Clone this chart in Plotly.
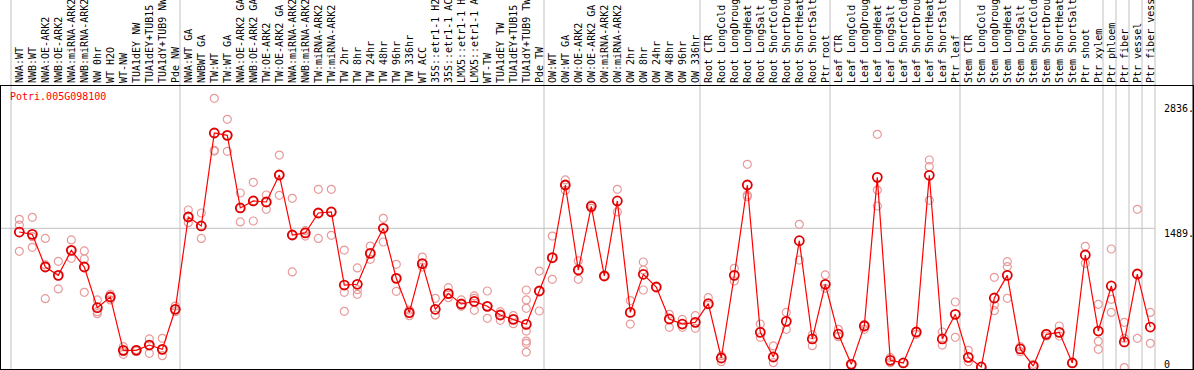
import plotly.graph_objects as go

labels = [
    "NWA:WT", "NWB:WT", "NWA:OE-ARK2", "NWB:OE-ARK2", "NWA:miRNA-ARK2", "NWB:miRNA-ARK2",
    "NW 0hr", "WT H2O", "WT-NW", "TUA1dEY NW", "TUA1dEY+TUB15 NW", "TUA1dY+TUB9 NW", "Pde NW",
    "NWA:WT GA", "NWBWT GA", "TW:WT", "TW:WT GA", "NWA:OE-ARK2 GA", "NWB:OE-ARK2 GA",
    "TW:OE-ARK2", "TW:OE-ARK2 GA", "NWA:miRNA-ARK2", "NWB:miRNA-ARK2", "TW:miRNA-ARK2",
    "TW:miRNA-ARK2", "TW 2hr", "TW 8hr", "TW 24hr", "TW 48hr", "TW 96hr", "TW 336hr",
    "WT ACC", "35S::etr1-1 H2O", "35S::etr1-1 ACC", "LMX5::etr1-1 H2O", "LMX5::etr1-1 ACC",
    "WT-TW", "TUA1dEY TW", "TUA1dEY+TUB15 TW", "TUA1dY+TUB9 TW", "Pde TW",
    "OW:WT", "OW:WT GA", "OW:OE-ARK2", "OW:OE-ARK2 GA", "OW:miRNA-ARK2", "OW:miRNA-ARK2",
    "OW 2hr", "OW 8hr", "OW 24hr", "OW 48hr", "OW 96hr", "OW 336hr",
    "Root CTR", "Root LongCold", "Root LongDrought", "Root LongHeat", "Root LongSalt",
    "Root ShortCold", "Root ShortDrought", "Root ShortHeat", "Root ShortSalt", "Ptr root",
    "Leaf CTR", "Leaf LongCold", "Leaf LongDrought", "Leaf LongHeat", "Leaf LongSalt",
    "Leaf ShortCold", "Leaf ShortDrought", "Leaf ShortHeat", "Leaf ShortSalt", "Ptr leaf",
    "Stem CTR", "Stem LongCold", "Stem LongDrought", "Stem LongHeat", "Stem LongSalt",
    "Stem ShortCold", "Stem ShortDrought", "Stem ShortHeat", "Stem ShortSalt", "Ptr shoot",
    "Ptr xylem", "Ptr phloem", "Ptr fiber", "Ptr vessel", "Ptr fiber vessel",
]

means = [
    1449, 1424, 1074, 985, 1253, 1074, 638, 753, 181, 181, 238, 192, 621,
    1610, 1514, 2510, 2485, 1707, 1782, 1771, 2060, 1417, 1439, 1653, 1664,
    881, 889, 1221, 1489, 953, 585, 1110, 621, 789, 678, 706, 653, 560, 513, 460, 817,
    1174, 1953, 1042, 1724, 978, 1782, 588, 996, 860, 517, 463, 481,
    681, 99, 985, 1953, 374, 110, 492, 1356, 303, 889,
    356, 31, 442, 2035, 74, 46, 378, 2057, 303, 567,
    106, 3, 742, 985, 196, 13, 353, 374, 46, 1203,
    388, 871, 271, 999, 431,
]

replicates = [
    [1585, 1524, 1242], [1607, 1399, 1285], [1381, 1096, 735], [1135, 981, 839],
    [1364, 1253, 1167], [1246, 1160, 803], [721, 596, 574], [781, 721, 753],
    [221, 167, 138], [175, 181, 188], [303, 238, 149], [310, 192, 124], [656, 621, 596],
    [1685, 1549, 1610], [1653, 1514, 1381], [2882, 2324, 2317], [2657, 2485, 2314],
    [1867, 1703, 1557], [1982, 1782, 1567], [1846, 1692, 1771], [2274, 2060, 1842],
    [1810, 1417, 1021], [1464, 1406, 1439], [1907, 1381, 1653], [1907, 1414, 1664],
    [1256, 803, 599], [1064, 831, 781], [1299, 1221, 1156], [1596, 1489, 1342],
    [1103, 953, 814], [613, 585, 553], [1181, 1110, 1074], [739, 560, 560],
    [853, 789, 746], [721, 678, 653], [764, 739, 610], [817, 653, 524],
    [596, 560, 503], [553, 513, 467], [828, 721, 631, 388, 281, 256, 163],
    [1031, 817, 603],
    [1406, 1174, 942], [2007, 1953, 1896], [1139, 1042, 942], [1739, 1703],
    [978, 978], [1907, 1664], [714, 463], [1128, 1042, 828], [860], [567, 428],
    [513, 428], [553, 417],
    [746, 667], [124, 60], [1060, 924], [2174, 1846, 1828], [463, 321], [228, 49],
    [588, 406], [1532, 1149], [346, 231], [989, 846],
    [406, 328], [31], [460, 406], [2496, 1899, 1728], [103, 49], [46], [378, 353],
    [2221, 2149, 1789], [378, 238], [699, 321],
    [181, 60], [3], [964, 667, 606], [1131, 1078, 739], [221, 167], [31],
    [364, 335], [442, 335], [46], [1296, 1114],
    [674, 278, 192], [1267, 728, 588], [481, 310, -4], [1692, 310], [588, 256],
]

group_starts = [0, 13, 41, 53, 63, 73, 84, 85, 86, 87, 88]
axis_ticks = [2836, 1489, 0]
gene = "Potri.005G098100"

W, H = 1194, 370
ML, MR, MT, MB = 1, 1, 86, 1
px0, step = 19.3, 13.0
xmin = (ML - px0) / step
xmax = (W - MR - px0) / step
ypx0, yscale = 367.25, 0.09332
ymax = (ypx0 - MT) / yscale
ymin = (ypx0 - (H - MB)) / yscale

rx = [i for i, r in enumerate(replicates) for _ in r]
ry = [v for r in replicates for v in r]

fig = go.Figure()
fig.add_trace(go.Scatter(
    x=rx, y=ry, mode="markers",
    marker=dict(symbol="circle-open", size=8, color="#e89a9a", line=dict(width=1.2)),
    hoverinfo="skip", showlegend=False,
))
fig.add_trace(go.Scatter(
    x=list(range(len(means))), y=means, mode="lines+markers",
    line=dict(color="#ff0000", width=1.2),
    marker=dict(symbol="circle-open", size=9, color="#e00000", line=dict(width=1.8)),
    showlegend=False,
))

shapes = []
off = 8.3 / step
top_paper = 1 + MT / (H - MT - MB)
for g in group_starts:
    shapes.append(dict(type="line", xref="x", yref="paper", x0=g - off, x1=g - off,
                       y0=0, y1=top_paper, line=dict(color="#c0c0c0", width=1), layer="below"))
shapes.append(dict(type="line", xref="x", yref="y", x0=xmin, x1=group_starts[-1] - off,
                   y0=1489, y1=1489, line=dict(color="#c0c0c0", width=1), layer="below"))
shapes.append(dict(type="line", xref="paper", yref="paper", x0=1.0, x1=1.0,
                   y0=0, y1=top_paper, line=dict(color="black", width=1)))

mono = "DejaVu Sans Mono"
annotations = [dict(text=gene, xref="paper", yref="paper", x=(10 - ML) / (W - ML - MR) - 0.002,
                    y=1.0, xanchor="left", yanchor="top", showarrow=False,
                    font=dict(family=mono, size=10, color="#ff0000"), yshift=-3)]
for t in axis_ticks:
    label = f"{t}." if t else "0"
    yy = t if t else 88
    annotations.append(dict(text=label, xref="x", yref="y", x=(1162 - px0) / step, y=yy,
                            xanchor="left", yanchor="top", showarrow=False,
                            font=dict(family=mono, size=10, color="black"), yshift=2))

fig.update_layout(
    width=W, height=H, template="none",
    margin=dict(l=ML, r=MR, t=MT, b=MB, pad=0),
    paper_bgcolor="white", plot_bgcolor="white",
    shapes=shapes, annotations=annotations,
    xaxis=dict(range=[xmin, xmax], side="top", tickmode="array",
               tickvals=list(range(len(labels))), ticktext=labels, tickangle=-90,
               tickfont=dict(family=mono, size=10, color="black"), ticks="",
               showgrid=False, zeroline=False, showline=True, mirror=True,
               linecolor="black", linewidth=1, automargin=False),
    yaxis=dict(range=[ymin, ymax], showticklabels=False, ticks="", showgrid=False,
               zeroline=False, showline=True, mirror=True, linecolor="black",
               linewidth=1, automargin=False),
)
fig.write_html("out.html", config={"displayModeBar": False},
               post_script="document.body.style.margin='0';")
